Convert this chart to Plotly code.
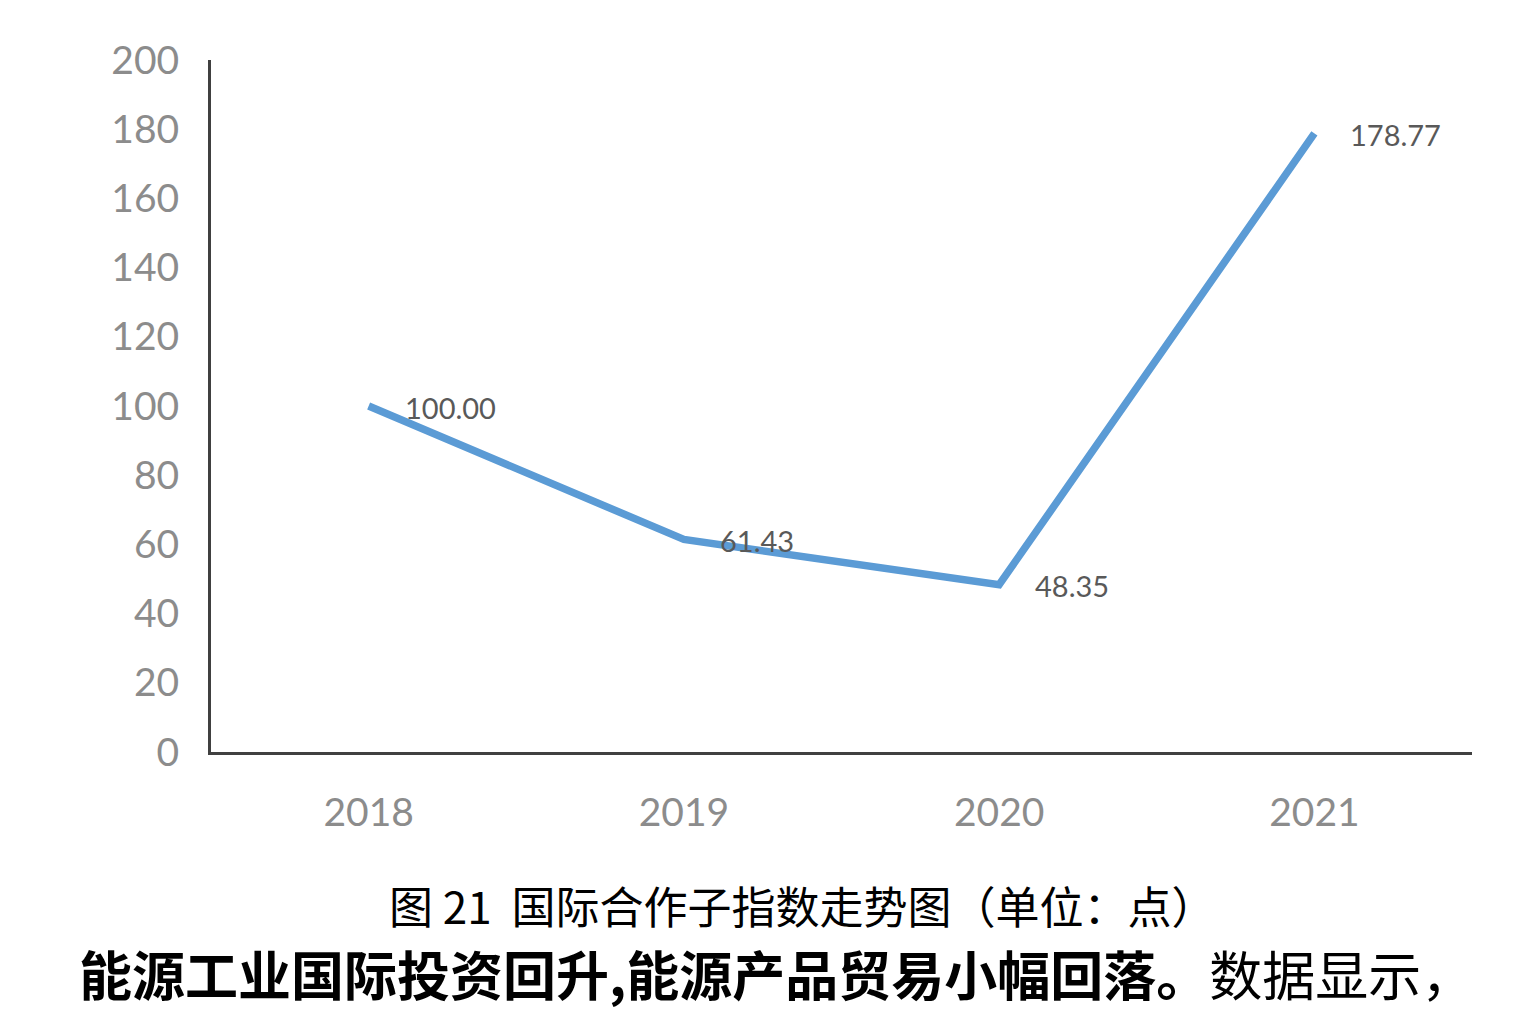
import plotly.graph_objects as go

years = ["2018", "2019", "2020", "2021"]
values = [100.00, 61.43, 48.35, 178.77]
labels = ["100.00", "61.43", "48.35", "178.77"]
y_ticks = [0, 20, 40, 60, 80, 100, 120, 140, 160, 180, 200]

caption = "图 21  国际合作子指数走势图（单位：点）"
body_bold = "能源工业国际投资回升,能源产品贸易小幅回落。"
body_regular = "数据显示，"

fig = go.Figure()
fig.add_trace(go.Scatter(
    x=years, y=values, mode="lines",
    line=dict(color="#5b9bd5", width=7.5),
    hoverinfo="skip", showlegend=False,
))

for i, (y, t) in enumerate(zip(values, labels)):
    fig.add_annotation(
        x=i, y=y, text=t, showarrow=False, xanchor="left", yanchor="middle",
        xshift=34, yshift=-1,
        font=dict(family="Lato", size=29, color="#595959"),
    )

fig.add_annotation(
    xref="paper", yref="paper", x=0.4685, y=-0.221, xanchor="center", yanchor="middle",
    text=caption, showarrow=False,
    font=dict(family="Noto Sans CJK SC", size=44, color="#000000"),
)
fig.add_annotation(
    xref="paper", yref="paper", x=-0.106, y=-0.262, xanchor="left", yanchor="top",
    text="<b>" + body_bold + "</b>" + body_regular, showarrow=False,
    font=dict(family="Noto Sans CJK SC", size=53, color="#000000"),
)

fig.update_layout(
    width=1540, height=1014,
    margin=dict(l=211, r=68, t=60, b=262),
    paper_bgcolor="white", plot_bgcolor="white",
    xaxis=dict(
        type="category", range=[-0.5, 3.5],
        showline=True, linecolor="#404040", linewidth=3,
        showgrid=False, zeroline=False, ticks="",
        tickfont=dict(family="Lato", size=39, color="#8c8c8c"),
        ticklabelstandoff=24,
    ),
    yaxis=dict(
        range=[0, 200], tickvals=y_ticks,
        showline=True, linecolor="#404040", linewidth=3,
        showgrid=False, zeroline=False, ticks="",
        tickfont=dict(family="Lato", size=39, color="#8c8c8c"),
        ticklabelstandoff=21,
    ),
)

fig.write_html("out.html")
